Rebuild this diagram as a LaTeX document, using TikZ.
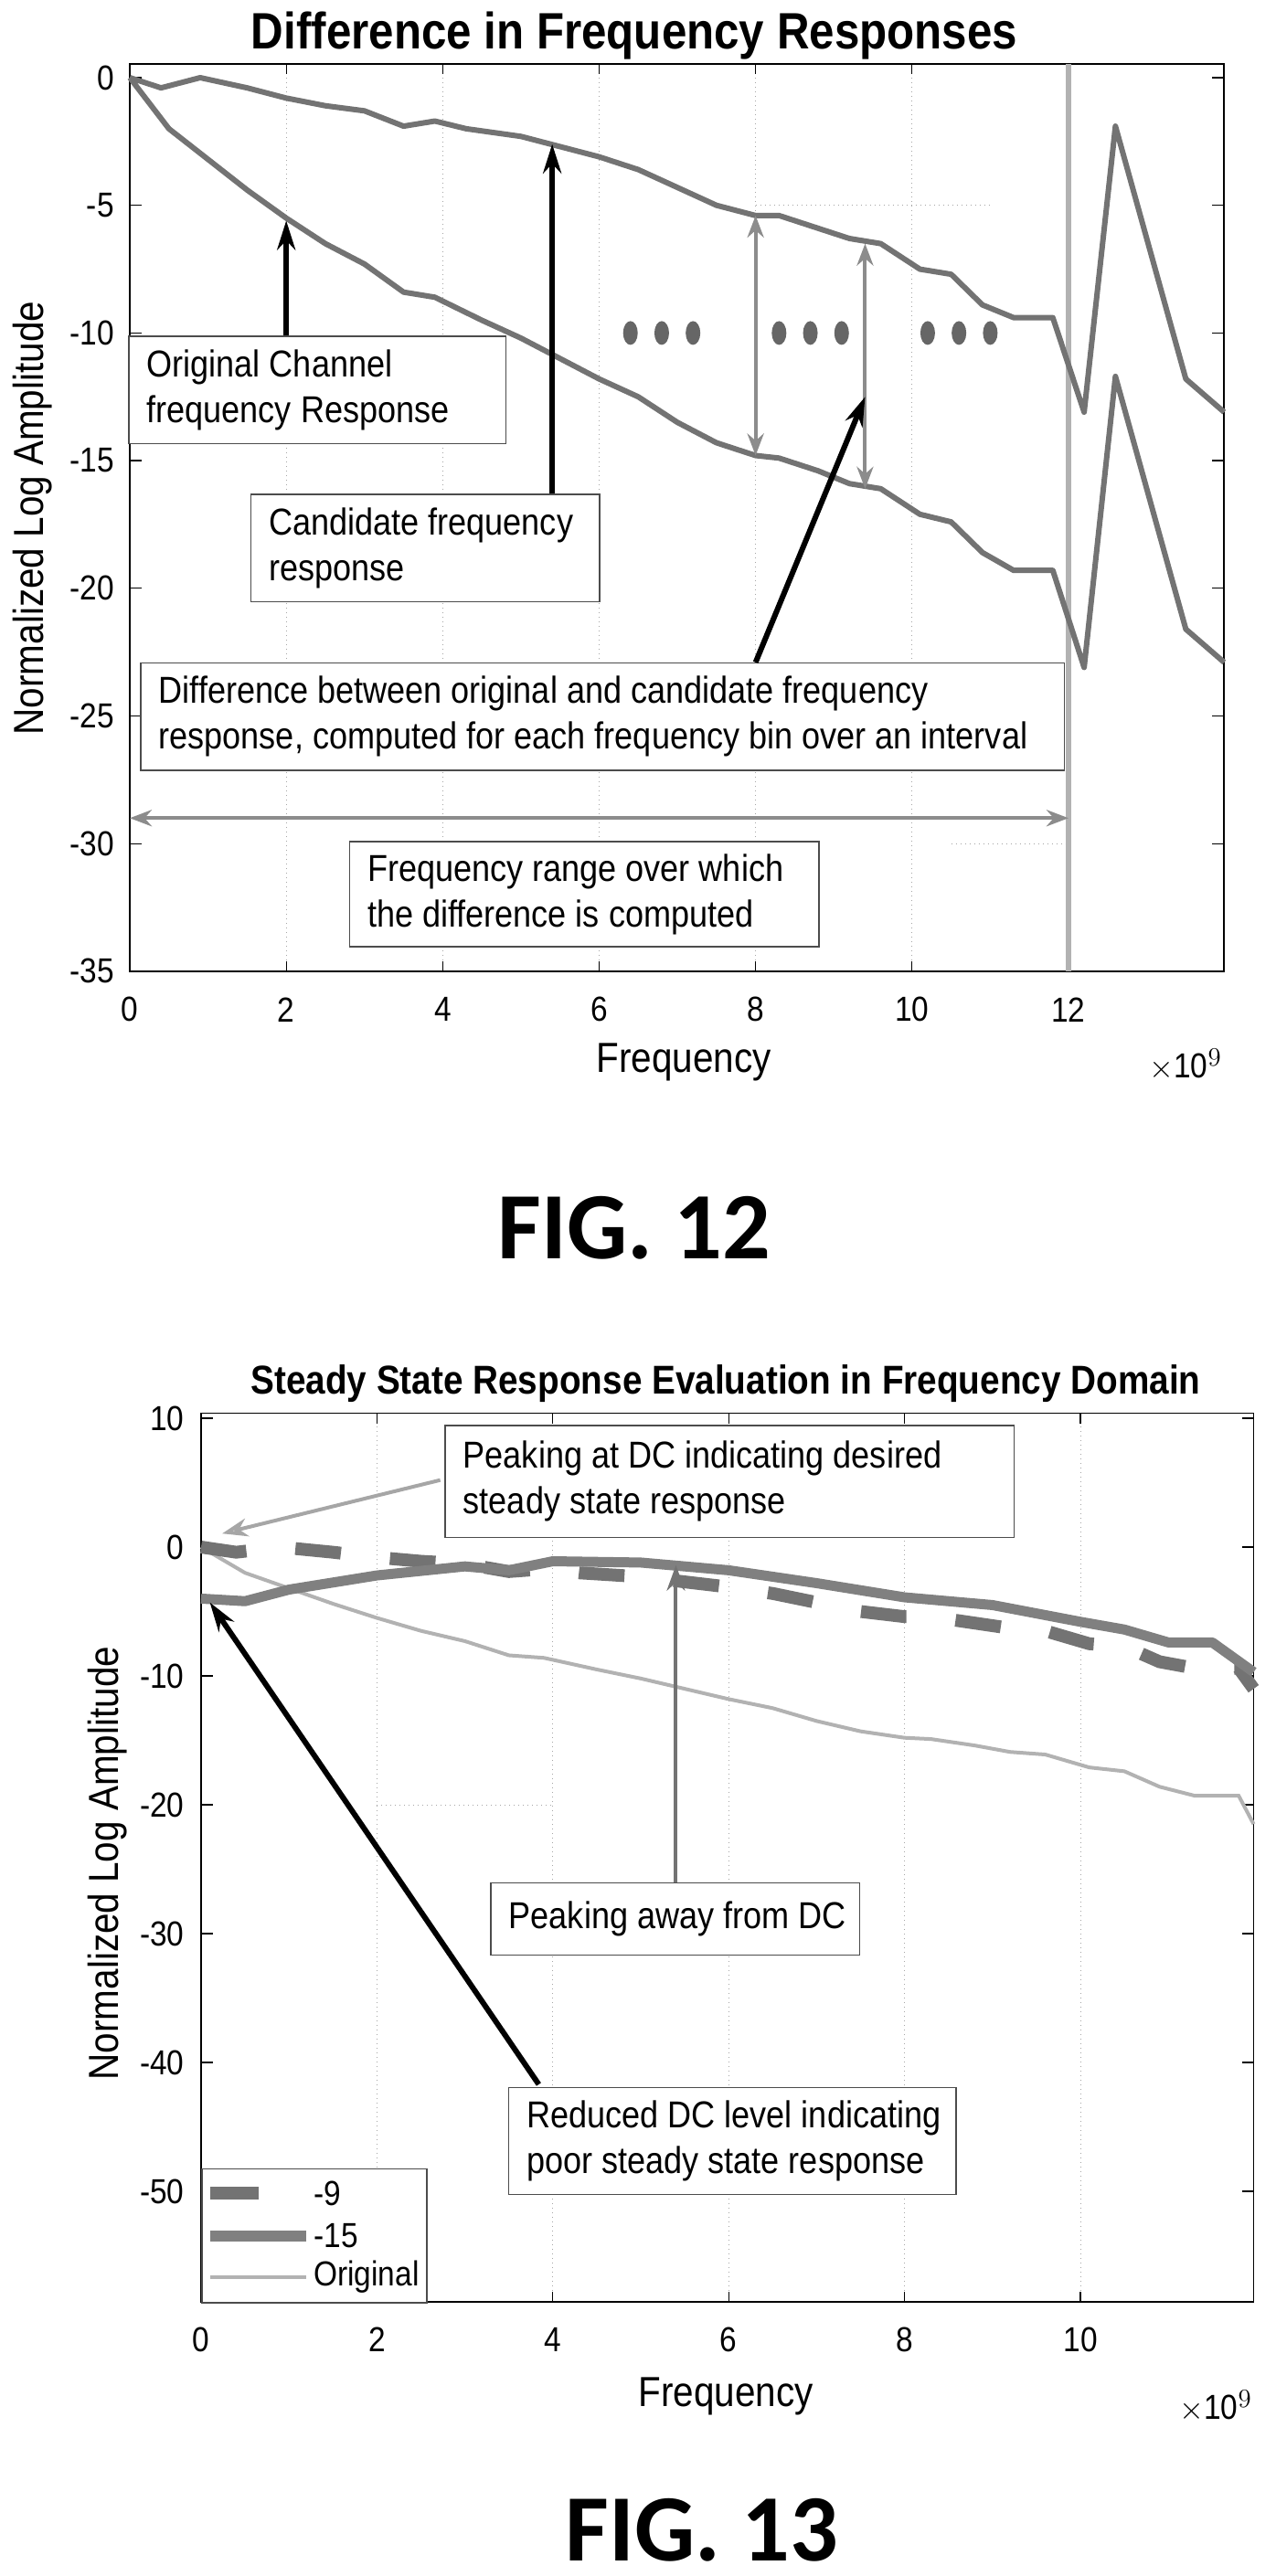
\documentclass[tikz,border=0pt]{standalone}
\usepackage{fontspec}
\setmainfont[FakeStretch=0.88]{Liberation Sans}
\newfontfamily\figfont{Carlito}
\usetikzlibrary{arrows.meta}
\begin{document}
\begin{tikzpicture}[
  tick/.style={font=\fontsize{19}{22}\selectfont},
  boxr/.style={draw=black!70, line width=0.8pt, fill=white, anchor=north west, inner sep=0pt},
  btxt/.style={anchor=west, align=left, inner sep=0pt, font=\fontsize{20.5}{25}\selectfont},
  curve/.style={line width=3pt, draw=black!55, line join=round},
  blk/.style={line width=3pt, -{Stealth[length=16pt,width=10pt]}},
  gdbl/.style={line width=2pt, draw=black!45, {Stealth[length=12pt,width=9pt,open]}-{Stealth[length=12pt,width=9pt,open]}},
  grid1/.style={black!35, dotted, line width=0.5pt},
  ttl/.style={font=\bfseries\fontsize{22}{25}\selectfont},
  axl/.style={font=\fontsize{23}{27}\selectfont},
  figl/.style={font=\figfont\bfseries\fontsize{52}{60}\selectfont}
]
\useasboundingbox (0,0) rectangle (698pt,-1409.5pt);
% ================= FIG 12 =================
\begin{scope}[shift={(71pt,-42.5pt)}, x=42.79pt, y=13.97pt]
  \foreach \xx in {2,4,...,10} \draw[grid1] (\xx,0.54) -- (\xx,-35);
  \draw[grid1] (8,-5) -- (11,-5);
  \draw[grid1] (10.5,-30) -- (12,-30);
  \draw[line width=0.8pt] (0,0.54) rectangle (13.99,-35);
  \foreach \yy in {0,-5,...,-35} {
    \draw[line width=0.6pt] (0,\yy) -- ++(0.15,0);
    \draw[line width=0.6pt] (13.99,\yy) -- ++(-0.15,0);
    \node[tick, anchor=east] at (-0.12,\yy) {\yy};
  }
  \foreach \xx in {0,2,...,12} {
    \draw[line width=0.6pt] (\xx,-35) -- ++(0,0.4);
    \draw[line width=0.6pt] (\xx,0.54) -- ++(0,-0.4);
    \node[tick] at (\xx,-36.5) {\xx};
  }
  \draw[line width=3pt, black!30] (12,0.54) -- (12,-35);
  \draw[curve] plot coordinates {(0,0) (0.4,-0.4) (0.9,0) (1.5,-0.4) (2,-0.8) (2.5,-1.1) (3,-1.3) (3.5,-1.9) (3.9,-1.7) (4.3,-2.0) (5,-2.3) (5.5,-2.7) (6,-3.1) (6.5,-3.6) (7,-4.3) (7.5,-5) (8,-5.4) (8.3,-5.4) (8.8,-5.9) (9.2,-6.3) (9.6,-6.5) (10.1,-7.5) (10.5,-7.7) (10.9,-8.9) (11.3,-9.4) (11.8,-9.4) (12.2,-13.1) (12.6,-1.9) (13.5,-11.8) (13.99,-13.1)};
  \draw[curve] plot coordinates {(0,0) (0.5,-2) (1,-3.2) (1.5,-4.4) (2,-5.5) (2.5,-6.5) (3,-7.3) (3.5,-8.4) (3.9,-8.6) (4.5,-9.5) (5,-10.2) (5.5,-11) (6,-11.8) (6.5,-12.5) (7,-13.5) (7.5,-14.3) (8,-14.8) (8.3,-14.9) (8.8,-15.4) (9.2,-15.9) (9.6,-16.1) (10.1,-17.1) (10.5,-17.4) (10.9,-18.6) (11.3,-19.3) (11.8,-19.3) (12.2,-23.1) (12.6,-11.7) (13.5,-21.6) (13.99,-22.9)};
  \foreach \xx in {6.4,6.8,7.2,8.3,8.7,9.1,10.2,10.6,11.0}
    \fill[black!60] (\xx,-10) ellipse (4pt and 6.5pt);
  \coordinate (d1a) at (8,-5.4); \coordinate (d1b) at (8,-14.8);
  \coordinate (d2a) at (9.4,-6.5); \coordinate (d2b) at (9.4,-16.1);
  \draw[gdbl] (d1a) -- (d1b);
  \draw[gdbl] (d2a) -- (d2b);
  \coordinate (r0) at (0,-29); \coordinate (r12) at (12,-29);
  \draw[gdbl] (r0) -- (r12);
  \coordinate (t1) at (2,-5.6); \coordinate (t2) at (5.4,-2.6); \coordinate (t3) at (9.4,-12.5);
  \coordinate (s3) at (8.0,-22.9);
\end{scope}
\node[boxr, minimum width=206.3pt, minimum height=58.7pt] (b1) at (70.1pt,-183.6pt) {};
\node[btxt] (b1t) at ([xshift=10pt]b1.west) {Original Channel\\frequency Response};
\node[boxr, minimum width=190.8pt, minimum height=58.7pt] (b2) at (136.9pt,-270.2pt) {};
\node[btxt] (b2t) at ([xshift=10pt]b2.west) {Candidate frequency\\response};
\node[boxr, minimum width=505.3pt, minimum height=58.7pt] (b3) at (76.6pt,-362.4pt) {};
\node[btxt] (b3t) at ([xshift=10pt]b3.west) {Difference between original and candidate frequency\\response, computed for each frequency bin over an interval};
\node[boxr, minimum width=256.8pt, minimum height=57.3pt] (b4) at (190.8pt,-460.2pt) {};
\node[btxt] (b4t) at ([xshift=10pt]b4.west) {Frequency range over which\\the difference is computed};
\draw[blk] (b1.north -| t1) -- (t1);
\draw[blk] (b2.north -| t2) -- (t2);
\draw[blk] (s3) -- (t3);
\node[ttl, font=\bfseries\fontsize{28}{32}\selectfont] (ttl12) at (347pt,-19.5pt) {Difference in Frequency Responses};
\node[axl] (xl12) at (374pt,-581pt) {Frequency};
\node[axl, rotate=90] (yl12) at (18pt,-283.5pt) {Normalized Log Amplitude};
\node[tick] (e12) at (648.5pt,-582.5pt) {$\times$10$^{9}$};
\node[figl] (f12) at (347pt,-672pt) {FIG. 12};
% ================= FIG 13 =================
\begin{scope}[shift={(110pt,-846.5pt)}, x=48.1pt, y=7.05pt]
  \foreach \xx in {2,4,...,10} \draw[grid1] (\xx,10.4) -- (\xx,-58.6);
  \draw[grid1] (2,-20) -- (4,-20);
  \draw[line width=0.8pt] (0,10.4) rectangle (11.97,-58.6);
  \foreach \yy in {10,0,-10,-20,-30,-40,-50} {
    \draw[line width=0.6pt] (0,\yy) -- ++(0.13,0);
    \draw[line width=0.6pt] (11.97,\yy) -- ++(-0.13,0);
    \node[tick, anchor=east] at (-0.12,\yy) {\yy};
  }
  \foreach \xx in {0,2,...,10} {
    \draw[line width=0.6pt] (\xx,-58.6) -- ++(0,0.8);
    \draw[line width=0.6pt] (\xx,10.4) -- ++(0,-0.8);
    \node[tick] at (\xx,-61.5) {\xx};
  }
  \draw[line width=2pt, black!30] plot coordinates {(0,0) (0.5,-2) (1,-3.2) (1.5,-4.4) (2,-5.5) (2.5,-6.5) (3,-7.3) (3.5,-8.4) (3.9,-8.6) (4.5,-9.5) (5,-10.2) (5.5,-11) (6,-11.8) (6.5,-12.5) (7,-13.5) (7.5,-14.3) (8,-14.8) (8.3,-14.9) (8.8,-15.4) (9.2,-15.9) (9.6,-16.1) (10.1,-17.1) (10.5,-17.4) (10.9,-18.6) (11.3,-19.3) (11.8,-19.3) (11.97,-21.5)};
  \draw[line width=7pt, black!55, dash pattern=on 25pt off 27pt] plot coordinates {(0,0) (0.4,-0.4) (0.9,0) (1.5,-0.4) (2,-0.8) (2.5,-1.1) (3,-1.3) (3.5,-1.9) (3.9,-1.7) (4.3,-2.0) (5,-2.3) (5.5,-2.7) (6,-3.1) (6.5,-3.6) (7,-4.3) (7.5,-5) (8,-5.4) (8.3,-5.4) (8.8,-5.9) (9.2,-6.3) (9.6,-6.5) (10.1,-7.5) (10.5,-7.7) (10.9,-8.9) (11.3,-9.4) (11.8,-9.4) (11.97,-11)};
  \draw[line width=5.5pt, black!50, line join=round] plot coordinates {(0,-4) (0.5,-4.2) (1,-3.3) (2,-2.2) (3,-1.5) (3.5,-1.8) (4,-1.1) (5,-1.2) (6,-1.8) (7,-2.8) (8,-3.9) (9,-4.5) (10,-5.8) (10.5,-6.4) (11,-7.4) (11.5,-7.4) (11.97,-9.7)};
  \coordinate (p1) at (0.24,1.05); \coordinate (p1s) at (2.72,5.2);
  \coordinate (p2) at (5.4,-1.4);
  \coordinate (p3) at (0.1,-4.3); \coordinate (p3s) at (3.84,-41.7);
\end{scope}
% legend
\node[boxr, minimum width=123pt, minimum height=73.3pt] (leg) at (110pt,-1186.3pt) {};
\draw[line width=7pt, black!55] (115pt,-1200pt) -- (141.5pt,-1200pt);
\node[tick, anchor=west, inner sep=0pt] (l1) at (171.5pt,-1200pt) {-9};
\draw[line width=6pt, black!50] (115pt,-1223.5pt) -- (167.5pt,-1223.5pt);
\node[tick, anchor=west, inner sep=0pt] (l2) at (171.5pt,-1223.5pt) {-15};
\draw[line width=2pt, black!30] (115pt,-1246pt) -- (167.5pt,-1246pt);
\node[tick, anchor=west, inner sep=0pt] (l3) at (171.5pt,-1246pt) {Original};
\node[boxr, minimum width=311.2pt, minimum height=61.4pt] (b5) at (243.2pt,-779.5pt) {};
\node[btxt] (b5t) at ([xshift=10pt]b5.west) {Peaking at DC indicating desired\\steady state response};
\node[boxr, minimum width=201.6pt, minimum height=39.5pt] (b6) at (268.2pt,-1029.8pt) {};
\node[btxt] (b6t) at ([xshift=10pt]b6.west) {Peaking away from DC};
\node[boxr, minimum width=244.8pt, minimum height=58.5pt] (b7) at (277.9pt,-1141.9pt) {};
\node[btxt] (b7t) at ([xshift=10pt]b7.west) {Reduced DC level indicating\\poor steady state response};
\draw[line width=2pt, black!35, -{Stealth[length=14pt,width=10pt,open]}] (p1s) -- (p1);
\draw[line width=2pt, black!55, -{Stealth[length=14pt,width=10pt,open]}] (b6.north -| p2) -- (p2);
\draw[blk] (p3s) -- (p3);
\node[ttl] (ttl13) at (397pt,-757pt) {Steady State Response Evaluation in Frequency Domain};
\node[axl] (xl13) at (397pt,-1311pt) {Frequency};
\node[axl, rotate=90] (yl13) at (59pt,-1019.5pt) {Normalized Log Amplitude};
\node[tick] (e13) at (665pt,-1316.5pt) {$\times$10$^{9}$};
\node[figl] (f13) at (384pt,-1384.5pt) {FIG. 13};
\end{tikzpicture}
\end{document}
